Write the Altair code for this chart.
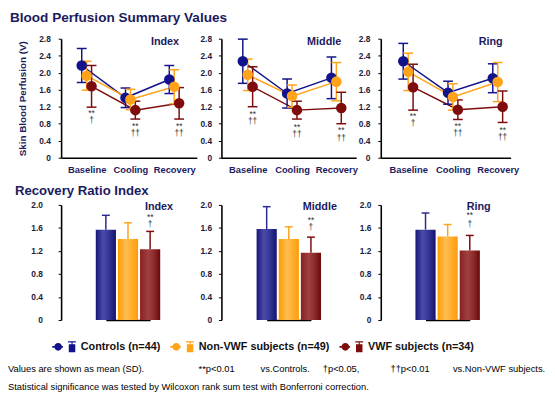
import altair as alt
import pandas as pd

# ---------------- data ----------------
phases = ["Baseline", "Cooling", "Recovery"]
groups = ["Controls (n=44)", "Non-VWF subjects (n=49)", "VWF subjects (n=34)"]
colors = ["#12128a", "#ffa31a", "#7e0c0c"]

# Skin blood perfusion (V): mean per phase, per group
index_ctrl = [2.17, 1.41, 1.84]
index_nonvwf = [1.93, 1.37, 1.67]
index_vwf = [1.68, 1.12, 1.28]
index_ctrl_sd = [0.40, 0.23, 0.33]
index_nonvwf_sd = [0.34, 0.24, 0.40]
index_vwf_sd = [0.49, 0.21, 0.37]

middle_ctrl = [2.27, 1.51, 1.88]
middle_nonvwf = [1.95, 1.45, 1.79]
middle_vwf = [1.67, 1.12, 1.17]
middle_ctrl_sd = [0.52, 0.34, 0.49]
middle_nonvwf_sd = [0.37, 0.26, 0.45]
middle_vwf_sd = [0.47, 0.21, 0.37]

ring_ctrl = [2.27, 1.53, 1.87]
ring_nonvwf = [2.02, 1.43, 1.78]
ring_vwf = [1.66, 1.13, 1.20]
ring_ctrl_sd = [0.42, 0.27, 0.34]
ring_nonvwf_sd = [0.44, 0.31, 0.46]
ring_vwf_sd = [0.54, 0.23, 0.37]

# significance marks under VWF points (phase, label, height in V)
index_marks = [("Baseline", "**", 1.06), ("Baseline", "†", 0.89),
               ("Cooling", "**", 0.75), ("Cooling", "††", 0.57),
               ("Recovery", "**", 0.75), ("Recovery", "††", 0.57)]
middle_marks = [("Baseline", "**", 1.03), ("Baseline", "††", 0.86),
                ("Cooling", "**", 0.73), ("Cooling", "††", 0.55),
                ("Recovery", "**", 0.65), ("Recovery", "††", 0.46)]
ring_marks = [("Baseline", "**", 0.99), ("Baseline", "†", 0.82),
              ("Cooling", "**", 0.74), ("Cooling", "††", 0.57),
              ("Recovery", "**", 0.66), ("Recovery", "††", 0.48)]

# Recovery ratio: mean and SD per group
ratio_index = [1.57, 1.41, 1.23]
ratio_index_sd = [0.25, 0.28, 0.31]
ratio_middle = [1.58, 1.41, 1.17]
ratio_middle_sd = [0.39, 0.21, 0.27]
ratio_ring = [1.57, 1.45, 1.21]
ratio_ring_sd = [0.29, 0.21, 0.26]
ratio_marks_index = [("**", 1.79), ("†", 1.66)]
ratio_marks_middle = [("**", 1.73), ("†", 1.62)]
ratio_marks_ring = [("**", 1.83), ("†", 1.67)]

top_ticks = [0, 0.4, 0.8, 1.2, 1.6, 2.0, 2.4, 2.8]
bottom_ticks = [0, 0.4, 0.8, 1.2, 1.6, 2.0]

NB = "\u00a0"
footnote = [
    "Values are shown as mean (SD)." + NB * 21 + "**p<0.01" + NB * 10 + "vs.Controls." + NB * 5
    + "†p<0.05," + NB * 12 + "††p<0.01" + NB * 9 + "vs.Non-VWF subjects.",
    "Statistical significance was tested by Wilcoxon rank sum test with Bonferroni correction.",
]

# ---------------- style ----------------
FN = "Liberation Sans, Arial, sans-serif"
NAVY = "#1b1b5e"
TICKC = "#1c1c3c"
LABEL_EXPR = "datum.value == 0 ? '0' : format(datum.value, '.1f')"
gradients = [
    [("#16167a", 0), ("#4a4aa8", 0.35), ("#3a3a9c", 0.6), ("#12126e", 1)],
    [("#ff9c00", 0), ("#ffbd52", 0.4), ("#ffae2c", 0.7), ("#ff9a08", 1)],
    [("#8a2020", 0), ("#a04040", 0.4), ("#8c2a2a", 0.7), ("#6a0808", 1)],
]
err_colors = ["#2a2a92", "#ffa31a", "#7e0c0c"]

LEGEND_PATH = ("M-1,-0.07L-0.1,-0.07L-0.1,0.07L-1,0.07Z "
               "M-0.82,0A0.32,0.32,0,1,1,-0.18,0A0.32,0.32,0,1,1,-0.82,0Z "
               "M0.4,-0.22L0.95,-0.22L0.95,0.45L0.4,0.45Z "
               "M0.63,-0.42L0.72,-0.42L0.72,-0.22L0.63,-0.22Z "
               "M0.33,-0.48L1,-0.48L1,-0.38L0.33,-0.38Z")

legend = alt.Legend(
    title=None, orient="none", legendX=-9, legendY=301, direction="horizontal",
    symbolType=LEGEND_PATH, symbolSize=576, symbolStrokeWidth=0, symbolOpacity=1,
    labelFont=FN, labelFontSize=11, labelFontWeight="bold", labelColor="#111111",
    labelOffset=5, columnPadding=10, padding=0, labelLimit=300,
)


def top_panel(name, means, sds, marks, width, pad, align, ytitle, label_pad, section=None):
    rows = []
    for g, m, s in zip(groups, means, sds):
        for i, ph in enumerate(phases):
            rows.append({"group": g, "phase": ph, "mean": m[i], "lo": m[i] - s[i], "hi": m[i] + s[i]})
    df = pd.DataFrame(rows)
    xax = alt.Axis(title=None, labelAngle=0, ticks=False, labelFont=FN, labelFontSize=9.5,
                   labelFontWeight="bold", labelColor=NAVY, labelPadding=7,
                   domainColor="black", domainWidth=1.6)
    yax = alt.Axis(title=ytitle, values=top_ticks, labelExpr=LABEL_EXPR, grid=False,
                   labelFont=FN, labelFontSize=8.5, labelFontWeight="bold", labelColor=TICKC,
                   labelPadding=label_pad, tickSize=3, tickColor="black", domainColor="black",
                   domainWidth=1.6, titleFont=FN, titleFontSize=10, titleFontWeight="bold",
                   titleColor=NAVY, titlePadding=11)
    xs = alt.X("phase:N", sort=phases, axis=xax,
               scale=alt.Scale(type="point", padding=pad, align=align))
    yscale = alt.Scale(domain=[0, 2.8], nice=False)
    base = alt.Chart(df)
    offsets = [-5, 0, 5]
    lines, errs, dots = [], [], []
    for g, c, off in zip(groups, colors, offsets):
        sub = base.transform_filter(alt.datum.group == g)
        lines.append(sub.mark_line(color=c, strokeWidth=1.5, xOffset=off).encode(
            x=xs, y=alt.Y("mean:Q", scale=yscale, axis=yax)))
        errs.append(sub.mark_rule(color=c, strokeWidth=1.5, xOffset=off).encode(
            x=xs, y=alt.Y("lo:Q", scale=yscale, axis=yax), y2="hi:Q"))
        errs.append(sub.mark_tick(color=c, thickness=1.5, size=10, xOffset=off, opacity=1).encode(
            x=xs, y=alt.Y("lo:Q", scale=yscale, axis=yax)))
        errs.append(sub.mark_tick(color=c, thickness=1.5, size=10, xOffset=off, opacity=1).encode(
            x=xs, y=alt.Y("hi:Q", scale=yscale, axis=yax)))
        dots.append(sub.mark_circle(size=115, opacity=1, xOffset=off).encode(
            x=xs, y=alt.Y("mean:Q", scale=yscale, axis=yax),
            color=alt.Color("group:N", scale=alt.Scale(domain=groups, range=colors), legend=legend)))
    mdf = pd.DataFrame([{"phase": p, "label": l, "v": v} for p, l, v in marks])
    ann = alt.Chart(mdf).mark_text(dx=5, fontSize=8.5, font=FN, color="#333333",
                                   baseline="middle").encode(
        x=xs, y=alt.Y("v:Q", scale=yscale, axis=yax), text="label:N")
    ndf = pd.DataFrame([{"phase": "Recovery", "v": 2.72, "label": name}])
    title_txt = alt.Chart(ndf).mark_text(dx=5, align="right", baseline="middle", font=FN,
                                         fontSize=11, fontWeight="bold", color=NAVY).encode(
        x=xs, y=alt.Y("v:Q", scale=yscale, axis=yax), text="label:N")
    ch = alt.layer(*lines, *errs, *dots, ann, title_txt).properties(width=width, height=121)
    if section:
        ch = ch.properties(title=alt.TitleParams(section, anchor="start", frame="group", dx=-52,
                                                 offset=-1, baseline="alphabetic", font=FN,
                                                 fontSize=13.8, fontWeight="bold", color=NAVY))
    return ch


def bottom_panel(name, means, sds, marks, width, label_pad, section=None):
    df = pd.DataFrame({"group": groups, "mean": means, "hi": [m + s for m, s in zip(means, sds)]})
    xax = alt.Axis(title=None, labels=False, ticks=False, domainColor="black", domainWidth=1.6)
    yax = alt.Axis(title=None, values=bottom_ticks, labelExpr=LABEL_EXPR, grid=False,
                   labelFont=FN, labelFontSize=8.5, labelFontWeight="bold", labelColor=TICKC,
                   labelPadding=label_pad, tickSize=3, tickColor="black", domainColor="black",
                   domainWidth=1.6)
    step = 22.5
    xs = alt.X("group:N", sort=groups, axis=xax,
               scale=alt.Scale(type="point", padding=0,
                               range=[width / 2 - step, width / 2 + step]))
    yscale = alt.Scale(domain=[0, 2.0], nice=False)
    base = alt.Chart(df)
    layers = []
    for g, grad, ec in zip(groups, gradients, err_colors):
        sub = base.transform_filter(alt.datum.group == g)
        fill = alt.Gradient(gradient="linear", x1=0, x2=1, y1=0, y2=0,
                            stops=[alt.GradientStop(color=c, offset=o) for c, o in grad])
        layers.append(sub.mark_rule(color=ec, strokeWidth=1.5).encode(
            x=xs, y=alt.Y("mean:Q", scale=yscale, axis=yax), y2="hi:Q"))
        layers.append(sub.mark_tick(color=ec, thickness=1.5, size=8, opacity=1).encode(
            x=xs, y=alt.Y("hi:Q", scale=yscale, axis=yax)))
        layers.append(sub.mark_bar(color=fill, size=20.5).encode(
            x=xs, y=alt.Y("mean:Q", scale=yscale, axis=yax)))
    mdf = pd.DataFrame([{"group": groups[2], "label": l, "v": v} for l, v in marks])
    ann = alt.Chart(mdf).mark_text(fontSize=8.5, font=FN, color="#333333",
                                   baseline="middle").encode(
        x=xs, y=alt.Y("v:Q", scale=yscale, axis=yax), text="label:N")
    ndf = pd.DataFrame([{"group": groups[2], "v": 1.96, "label": name}])
    title_txt = alt.Chart(ndf).mark_text(dx=9, align="center", baseline="middle", font=FN,
                                         fontSize=11, fontWeight="bold", color=NAVY).encode(
        x=xs, y=alt.Y("v:Q", scale=yscale, axis=yax), text="label:N")
    ch = alt.layer(*layers, ann, title_txt).properties(width=width, height=117)
    if section:
        ch = ch.properties(title=alt.TitleParams(section, anchor="start", frame="group", dx=-47,
                                                 offset=-7, baseline="alphabetic", font=FN,
                                                 fontSize=13.4, fontWeight="bold", color=NAVY))
    return ch


p1 = top_panel("Index", [index_ctrl, index_nonvwf, index_vwf],
               [index_ctrl_sd, index_nonvwf_sd, index_vwf_sd], index_marks,
               138, 0.55, 0.53, "Skin Blood Perfusion (V)", 8, "Blood Perfusion Summary Values")
p2 = top_panel("Middle", [middle_ctrl, middle_nonvwf, middle_vwf],
               [middle_ctrl_sd, middle_nonvwf_sd, middle_vwf_sd], middle_marks,
               137, 0.52, 0.57, None, 7)
p3 = top_panel("Ring", [ring_ctrl, ring_nonvwf, ring_vwf],
               [ring_ctrl_sd, ring_nonvwf_sd, ring_vwf_sd], ring_marks,
               132, 0.45, 0.68, None, 8)
b1 = bottom_panel("Index", ratio_index, ratio_index_sd, ratio_marks_index, 136, 16,
                  "Recovery Ratio Index")
b2 = bottom_panel("Middle", ratio_middle, ratio_middle_sd, ratio_marks_middle, 137, 7)
b3 = bottom_panel("Ring", ratio_ring, ratio_ring_sd, ratio_marks_ring, 136, 7)

chart = alt.concat(p1, p2, p3, b1, b2, b3, columns=3, bounds="flush",
                   spacing={"row": 48, "column": 25}).properties(
    padding=0,
    title=alt.TitleParams(footnote, orient="bottom", anchor="start", frame="group", dx=-54,
                          offset=12, baseline="top", font=FN, fontSize=9.5, fontWeight="normal",
                          color="black", lineHeight=18),
).configure_view(stroke=None)

chart.save("out.html", embed_options={"renderer": "svg", "actions": False})
